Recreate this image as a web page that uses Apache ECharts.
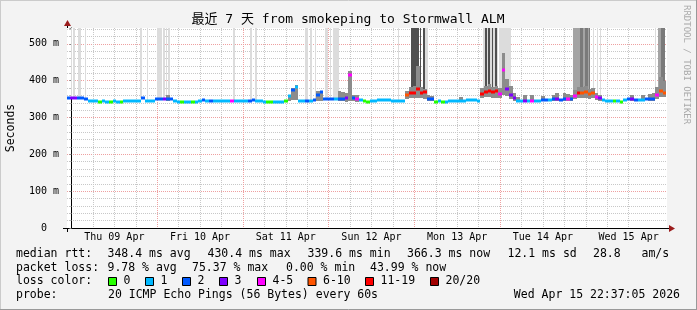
<!DOCTYPE html>
<html><head><meta charset="utf-8">
<script src="https://cdn.jsdelivr.net/npm/echarts@6/dist/echarts.min.js"></script>
<style>html,body{margin:0;padding:0;background:#f3f3f3}#c{width:697px;height:310px}</style>
</head><body><div id="c"></div>
<script>
// ---------------- data ----------------
const titleText = '最近 7 天 from smokeping to Stormwall ALM';
const yAxisName = 'Seconds';
const watermark = 'RRDTOOL / TOBI OETIKER';
// x values are hours relative to Thu 09 Apr 00:00
const xMinHour = -1.25;
const xMaxHour = 166.75;
const yMaxMs = 543;
const sixHourTicks = [0,6,12,18,24,30,36,42,48,54,60,66,72,78,84,90,96,102,108,114,120,126,132,138,144,150,156,162];
const midnightHours = [0,24,48,72,96,120,144];
const noonHours = [12,36,60,84,108,132,156];
const dayLabels = ['Thu 09 Apr','Fri 10 Apr','Sat 11 Apr','Sun 12 Apr','Mon 13 Apr','Tue 14 Apr','Wed 15 Apr'];
const yTickLabels = ['0','100 m','200 m','300 m','400 m','500 m'];

// hourly samples, first one at hour -1
const firstSampleHour = -1;
const medianRtt = [
352,352,352,352,352,351,345,345,344,342,344,343,341,344,343,341,344,345,345,345,345,352,345,345,345,
349,349,349,350,349,344,342,342,341,342,341,343,345,348,345,346,345,345,345,345,345,345,345,345,
345,345,346,347,345,344,343,342,341,341,343,343,344,358,374,383,345,345,345,346,347,360,368,349,
349,349,349,349,350,352,415,352,350,347,344,343,345,346,347,347,347,347,346,346,345,345,360,367,
366,378,367,368,350,350,342,345,343,342,345,345,345,344,346,347,347,347,346,365,370,372,368,371,
365,430,378,362,352,346,345,346,345,346,345,346,348,348,347,349,350,348,351,351,349,358,366,366,
368,363,366,356,354,347,345,345,344,345,343,347,349,350,348,347,348,349,350,351,362,372,366
];
// loss bucket index per sample (0:'0',1:'1',2:'2',3:'3',4:'4-5',5:'6-10',6:'11-19',7:'20/20')
const lossBucket = [
2,3,3,2,2,2,1,1,1,0,1,1,0,1,1,0,1,1,1,1,1,2,1,1,1,
2,2,3,2,2,1,1,0,1,1,0,1,1,2,1,2,1,1,1,1,1,4,1,1,
1,1,2,2,1,1,1,0,0,1,1,1,0,1,2,1,1,1,2,1,2,2,2,2,
2,2,1,2,2,3,4,2,4,1,0,0,1,1,1,1,1,1,1,1,1,1,5,6,
6,6,6,6,2,2,0,1,0,1,1,1,1,1,1,1,1,1,1,6,6,6,6,6,
4,4,3,3,3,1,1,3,1,4,1,1,2,2,1,2,3,2,2,4,2,4,6,5,
5,5,5,4,3,1,1,1,0,1,0,1,2,3,2,1,1,2,2,2,4,5,5
];
// visible smoke (spread of the 20 pings)
const smokeHour = [27,61,62,63,69,70,75,76,77,78,79,80,94,95,96,97,98,99,100,101,109,115,116,117,118,119,120,121,122,123,124,125,127,129,132,135,136,138,139,140,141,142,143,144,145,146,147,148,157,160,162,163,164,165,166];
const smokeLow  = [345,345,348,348,345,345,345,345,343,345,345,343,350,352,352,352,352,350,345,345,342,352,355,355,352,352,352,360,358,350,345,342,343,343,344,344,345,345,345,345,350,352,352,352,350,352,348,346,345,344,345,346,350,355,355];
const smokeHigh = [362,362,380,388,372,372,372,368,366,425,362,360,372,382,386,440,382,378,362,358,356,380,386,392,383,386,380,475,405,385,366,356,360,362,358,360,366,367,364,362,376,382,384,386,378,380,366,362,362,360,364,366,382,410,398];
// periods where part of the pings lies above the graph (shade: 0 few .. 3 many)
const spikeStart = [-0.25,0.45,1.7,3.9,19.2,21.1,23.9,25.75,26.45,26.95,45.3,50.0,51.4,65.4,66.8,68.2,71.0,72.5,73.3,91.35,95.2,97.5,98.4,99.1,115.3,115.8,116.7,117.65,118.6,119.8,140.4,142.5,143.8,144.8,145.9,147.1,148.0,163.3,164.2,165.2];
const spikeEnd   = [0.05,1.0,2.8,4.2,19.8,21.35,25.3,26.2,26.7,27.55,45.8,50.45,51.85,66.3,67.25,68.45,71.9,72.75,74.9,91.75,97.2,98.0,99.0,99.9,119.4,116.3,117.2,118.1,119.1,123.2,145.3,143.3,144.5,145.2,146.2,147.4,148.4,163.8,165.0,166.2];
const spikeShade = [0,0,0,0,0,0,0,0,0,0,0,0,0,0,0,0,0,0,0,0,3,3,3,0,0,3,3,3,3,0,1,2,2,2,0,0,0,0,1,2];

const lossColors = ['#26ff00','#00b8ff','#0059ff','#7e00ff','#ff00ff','#ff5500','#ff0000','#a10000'];
const lossLabels = ['0','1','2','3','4-5','6-10','11-19','20/20'];
const legendLine1 = ['median rtt:','348.4 ms avg','430.4 ms max','339.6 ms min','366.3 ms now','12.1 ms sd','28.8   am/s'];
const legendLine2 = ['packet loss:','9.78 % avg','75.37 % max','0.00 % min','43.99 % now'];
const legendLine3 = 'loss color:';
const legendLine4 = ['probe:','20 ICMP Echo Pings (56 Bytes) every 60s'];
const stampText = 'Wed Apr 15 22:37:05 2026';

// ---------------- layout / style ----------------
const MONO = "'DejaVu Sans Mono', 'Noto Sans CJK SC', monospace";
const shadeColors = ['#dcdcdc','#a4a4a4','#7a7a7a','#505050'];
const line1X = [16,107.5,207.5,307.5,407,507.5,593];
const line2X = [16,107.5,192,286,370];
const boxX = [108,145,182,219,257,307.5,365,430];
const rowY = [254.5,268,281.5,295.5];

const chart = echarts.init(document.getElementById('c'), null, {renderer:'canvas'});

const samples = medianRtt.map((v, i) => [firstSampleHour + i, v, lossBucket[i]]);
const smokeData = smokeHour.map((h, i) => [h, smokeLow[i], smokeHigh[i]]);
const spikeData = spikeStart.map((s, i) => [s, spikeEnd[i], spikeShade[i]]);

function baseAt(hour) {
  let idx = Math.round(hour - firstSampleHour);
  idx = Math.max(0, Math.min(medianRtt.length - 1, idx));
  return medianRtt[idx];
}

const txt = (x, y, text, extra) => Object.assign({type:'text', x, y, silent:true,
  style:{text, fill:'#000', font:'11.5px ' + MONO, textAlign:'left', textVerticalAlign:'middle'}}, extra || {});

const graphics = [];
// frame
graphics.push({type:'line', shape:{x1:0.5,y1:0,x2:0.5,y2:310}, style:{stroke:'#cbcbcb',lineWidth:1}});
graphics.push({type:'line', shape:{x1:0,y1:0.5,x2:697,y2:0.5}, style:{stroke:'#cbcbcb',lineWidth:1}});
graphics.push({type:'line', shape:{x1:696.5,y1:0,x2:696.5,y2:310}, style:{stroke:'#999',lineWidth:1}});
graphics.push({type:'line', shape:{x1:0,y1:309.5,x2:697,y2:309.5}, style:{stroke:'#999',lineWidth:1}});
// title etc.
graphics.push({type:'text', x:348, y:20, style:{text:titleText, fill:'#000', font:'13px ' + MONO, textAlign:'center', textVerticalAlign:'middle'}});
graphics.push({type:'text', x:11, y:128, rotation:Math.PI/2, style:{text:yAxisName, fill:'#000', font:'11.5px ' + MONO, textAlign:'center', textVerticalAlign:'middle'}});
graphics.push({type:'text', x:686, y:5, rotation:-Math.PI/2, style:{text:watermark, fill:'#aaaaaa', font:'9px ' + MONO, textAlign:'left', textVerticalAlign:'middle'}});
// axis extensions and arrows
graphics.push({type:'line', shape:{x1:63,y1:228.5,x2:67,y2:228.5}, style:{stroke:'#000',lineWidth:1}});
graphics.push({type:'line', shape:{x1:67.5,y1:228,x2:67.5,y2:232}, style:{stroke:'#000',lineWidth:1}});
graphics.push({type:'line', shape:{x1:667,y1:228.5,x2:670,y2:228.5}, style:{stroke:'#000',lineWidth:1}});
graphics.push({type:'line', shape:{x1:67.5,y1:28,x2:67.5,y2:25}, style:{stroke:'#000',lineWidth:1}});
graphics.push({type:'polygon', shape:{points:[[64,26],[71,26],[67.5,20]]}, style:{fill:'#9b1c1c'}});
graphics.push({type:'polygon', shape:{points:[[669,225],[669,232],[675,228.5]]}, style:{fill:'#9b1c1c'}});
// legend
legendLine1.forEach((t, i) => graphics.push(txt(line1X[i], rowY[0], t)));
legendLine2.forEach((t, i) => graphics.push(txt(line2X[i], rowY[1], t)));
graphics.push(txt(16, rowY[2], legendLine3));
lossLabels.forEach((t, i) => {
  graphics.push({type:'rect', shape:{x:boxX[i]+0.5, y:277.5, width:8, height:8}, style:{fill:lossColors[i], stroke:'#000', lineWidth:1}});
  graphics.push(txt(boxX[i] + 15.5, rowY[2], t));
});
graphics.push(txt(16, rowY[3], legendLine4[0]));
graphics.push(txt(108, rowY[3], legendLine4[1]));
graphics.push(txt(680, rowY[3], stampText, {style:{text:stampText, fill:'#000', font:'11.5px ' + MONO, textAlign:'right', textVerticalAlign:'middle'}}));

const axisFont = {fontFamily:"'DejaVu Sans Mono', monospace", fontSize:10, color:'#000'};

chart.setOption({
  animation:false,
  backgroundColor:'#f3f3f3',
  grid:{left:67, top:28, width:600, height:200, show:true, backgroundColor:'#ffffff', borderWidth:0},
  xAxis:[{
    type:'value', min:xMinHour, max:xMaxHour, position:'bottom',
    axisLine:{show:true, onZero:false, lineStyle:{color:'#000', width:1}},
    axisTick:{show:false, customValues:sixHourTicks},
    splitLine:{show:true, showMinLine:false, showMaxLine:false, lineStyle:{color:'#c8c8c8', width:1, type:[1,1]}},
    axisLabel:Object.assign({customValues:noonHours, margin:4, formatter:v => dayLabels[noonHours.indexOf(v)]}, axisFont)
  },{
    type:'value', min:xMinHour, max:xMaxHour, position:'bottom',
    axisLine:{show:false}, axisTick:{show:false, customValues:midnightHours}, axisLabel:{show:false},
    splitLine:{show:true, showMinLine:false, showMaxLine:false, lineStyle:{color:'#eea0a0', width:1, type:[1,1]}}
  }],
  yAxis:{
    type:'value', min:0, max:yMaxMs, interval:100,
    axisLine:{show:true, lineStyle:{color:'#000', width:1}},
    axisTick:{show:true, length:2, lineStyle:{color:'#888'}},
    minorTick:{show:true, splitNumber:5, length:2, lineStyle:{color:'#bbb'}},
    splitLine:{show:true, showMinLine:false, showMaxLine:false, lineStyle:{color:'#eea0a0', width:1, type:[1,1]}},
    minorSplitLine:{show:true, lineStyle:{color:'#c8c8c8', width:1, type:[1,1]}},
    axisLabel:Object.assign({showMaxLabel:false, align:'center', margin:23, formatter:v => yTickLabels[Math.round(v/100)]}, axisFont)
  },
  graphic:graphics,
  series:[{
    type:'custom', name:'above', xAxisIndex:0, yAxisIndex:0, clip:true, z:2,
    data:spikeData, encode:{x:[0,1]},
    renderItem(params, api){
      const s = api.value(0), e = api.value(1), sh = api.value(2);
      const p0 = api.coord([s, yMaxMs]);
      const p1 = api.coord([e, baseAt((s+e)/2)]);
      const x = Math.round(p0[0]);
      const w = Math.max(1, Math.round(p1[0]) - x);
      return {type:'rect', shape:{x, y:p0[1], width:w, height:p1[1]-p0[1]}, style:{fill:shadeColors[sh]}};
    }
  },{
    type:'custom', name:'smoke', xAxisIndex:0, yAxisIndex:0, clip:true, z:3,
    data:smokeData, encode:{x:0, y:[1,2]},
    renderItem(params, api){
      const h = api.value(0);
      const p0 = api.coord([h-0.5, api.value(2)]);
      const p1 = api.coord([h+0.5, api.value(1)]);
      const x = Math.round(p0[0]);
      return {type:'rect', shape:{x, y:Math.round(p0[1]), width:Math.round(p1[0])-x, height:Math.round(p1[1])-Math.round(p0[1])}, style:{fill:'#8c8c8c'}};
    }
  },{
    type:'custom', name:'median', xAxisIndex:0, yAxisIndex:0, clip:true, z:4,
    data:samples, encode:{x:0, y:1},
    renderItem(params, api){
      const h = api.value(0);
      const p0 = api.coord([h-0.5, api.value(1)]);
      const p1 = api.coord([h+0.5, api.value(1)]);
      const x = Math.round(p0[0]);
      return {type:'rect', shape:{x, y:Math.round(p0[1])-1.5, width:Math.round(p1[0])-x, height:3}, style:{fill:lossColors[api.value(2)]}};
    }
  }]
});
</script></body></html>
